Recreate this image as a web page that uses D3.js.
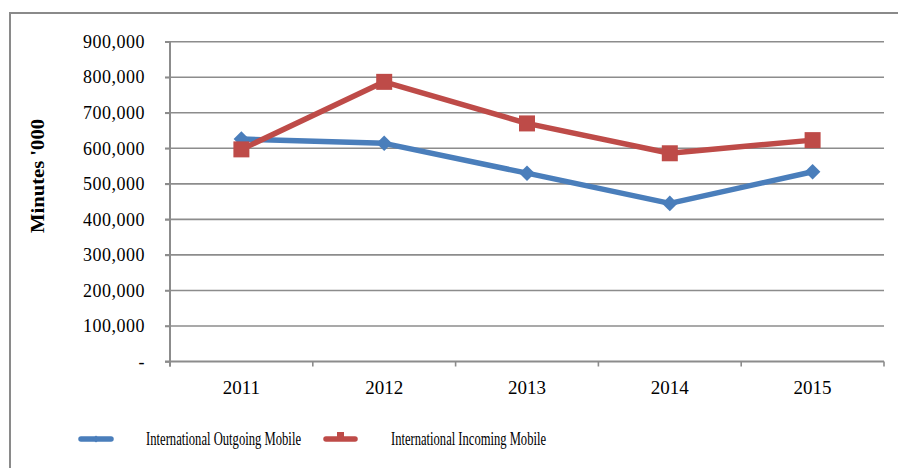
<!DOCTYPE html>
<html><head><meta charset="utf-8">
<script src="https://cdn.jsdelivr.net/npm/d3@7"></script>
<style>body{margin:0;background:#fff;} svg{display:block;}</style>
</head><body>
<svg id="chart" width="898" height="468"></svg>
<script>
const years = ["2011","2012","2013","2014","2015"];
const outgoing = [626000, 614000, 530000, 445000, 534000];
const incoming = [597000, 787000, 670000, 586000, 623000];
const seriesNames = ["International Outgoing Mobile", "International Incoming Mobile"];
const yTicks = [0,100000,200000,300000,400000,500000,600000,700000,800000,900000];
const colors = ["#4a7ebb", "#be4b48"];

(function(){
const svg = d3.select("#chart");
const font = "'Liberation Serif', 'Times New Roman', serif";
const pLeft = 170, pRight = 884, pTop = 41.7, pBottom = 361.5;

// outer border
svg.append("rect").attr("x",10).attr("y",13).attr("width",900).attr("height",470)
  .attr("fill","none").attr("stroke","#8a8a8a").attr("stroke-width",2);

const x = d3.scaleBand().domain(years).range([pLeft,pRight]);
const y = d3.scaleLinear().domain([0,900000]).range([pBottom,pTop]);

// gridlines
svg.append("g").selectAll("line").data(yTicks.filter(d=>d>0)).join("line")
  .attr("x1",pLeft-5).attr("x2",pRight).attr("y1",d=>y(d)).attr("y2",d=>y(d))
  .attr("stroke","#8c8c8c").attr("stroke-width",1.6);

// y axis
const yAxis = d3.axisLeft(y).tickValues(yTicks).tickSize(5).tickPadding(20)
  .tickFormat(d=> d===0 ? "-" : d3.format(",")(d));
const gy = svg.append("g").attr("transform",`translate(${pLeft},0)`).call(yAxis);
gy.select(".domain").attr("stroke","#8c8c8c").attr("stroke-width",2).attr("d",`M0,${pTop}V${pBottom+5}`);
gy.selectAll(".tick line").attr("stroke","#8c8c8c").attr("stroke-width",1.6);
gy.selectAll("text").attr("font-family",font).attr("font-size",18).attr("fill","#000")
  .attr("letter-spacing","0.5px").attr("dy","0.32em");

// x axis
const gx = svg.append("g").attr("transform",`translate(0,${pBottom})`);
gx.append("line").attr("x1",pLeft-5).attr("x2",pRight).attr("stroke","#8c8c8c").attr("stroke-width",2);
const bounds = years.map(d=>x(d)).concat([pRight]);
gx.selectAll(".tk").data(bounds).join("line").attr("class","tk")
  .attr("x1",d=>d).attr("x2",d=>d).attr("y1",0).attr("y2",5)
  .attr("stroke","#8c8c8c").attr("stroke-width",1.6);
gx.selectAll(".lbl").data(years).join("text").attr("class","lbl")
  .attr("x",d=>x(d)+x.bandwidth()/2).attr("y",32)
  .attr("text-anchor","middle").attr("font-family",font).attr("font-size",19).text(d=>d);

// y axis title
svg.append("text").attr("transform","translate(44,176) rotate(-90)")
  .attr("text-anchor","middle").attr("font-family",font).attr("font-weight","bold")
  .attr("font-size",18).attr("textLength",114).attr("lengthAdjust","spacingAndGlyphs")
  .text("Minutes '000");

const line = d3.line().x((d,i)=>x(years[i])+x.bandwidth()/2).y(d=>y(d));

// outgoing
svg.append("path").datum(outgoing).attr("d",line).attr("fill","none")
  .attr("stroke",colors[0]).attr("stroke-width",5.5).attr("stroke-linejoin","round");
svg.append("g").selectAll("rect").data(outgoing).join("rect")
  .attr("x",-5.5).attr("y",-5.5).attr("width",11).attr("height",11)
  .attr("transform",(d,i)=>`translate(${x(years[i])+x.bandwidth()/2},${y(d)}) rotate(45)`)
  .attr("fill",colors[0]);

// incoming
svg.append("path").datum(incoming).attr("d",line).attr("fill","none")
  .attr("stroke",colors[1]).attr("stroke-width",5.5).attr("stroke-linejoin","round");
svg.append("g").selectAll("rect").data(incoming).join("rect")
  .attr("x",(d,i)=>x(years[i])+x.bandwidth()/2-8).attr("y",d=>y(d)-8)
  .attr("width",16).attr("height",16).attr("fill",colors[1]);

// legend
const legY = 439;
const leg = [{x1:78,x2:114,tx:146},{x1:323,x2:358,tx:391}];
leg.forEach((l,i)=>{
  svg.append("line").attr("x1",l.x1+3).attr("x2",l.x2-3).attr("y1",legY).attr("y2",legY)
    .attr("stroke",colors[i]).attr("stroke-width",5.5).attr("stroke-linecap","round");
  const cx=(l.x1+l.x2)/2;
  if(i===0){
    svg.append("rect").attr("x",-2.5).attr("y",-2.5).attr("width",5).attr("height",5)
      .attr("transform",`translate(${cx},${legY}) rotate(45)`).attr("fill",colors[0]);
  } else {
    svg.append("rect").attr("x",cx-3.5).attr("y",legY-7).attr("width",7).attr("height",7).attr("fill",colors[1]);
  }
  svg.append("text").attr("x",l.tx).attr("y",legY).attr("dy","0.35em")
    .attr("font-family",font).attr("font-size",18)
    .attr("textLength",155).attr("lengthAdjust","spacingAndGlyphs")
    .text(seriesNames[i]);
});
})();
</script>
</body></html>
